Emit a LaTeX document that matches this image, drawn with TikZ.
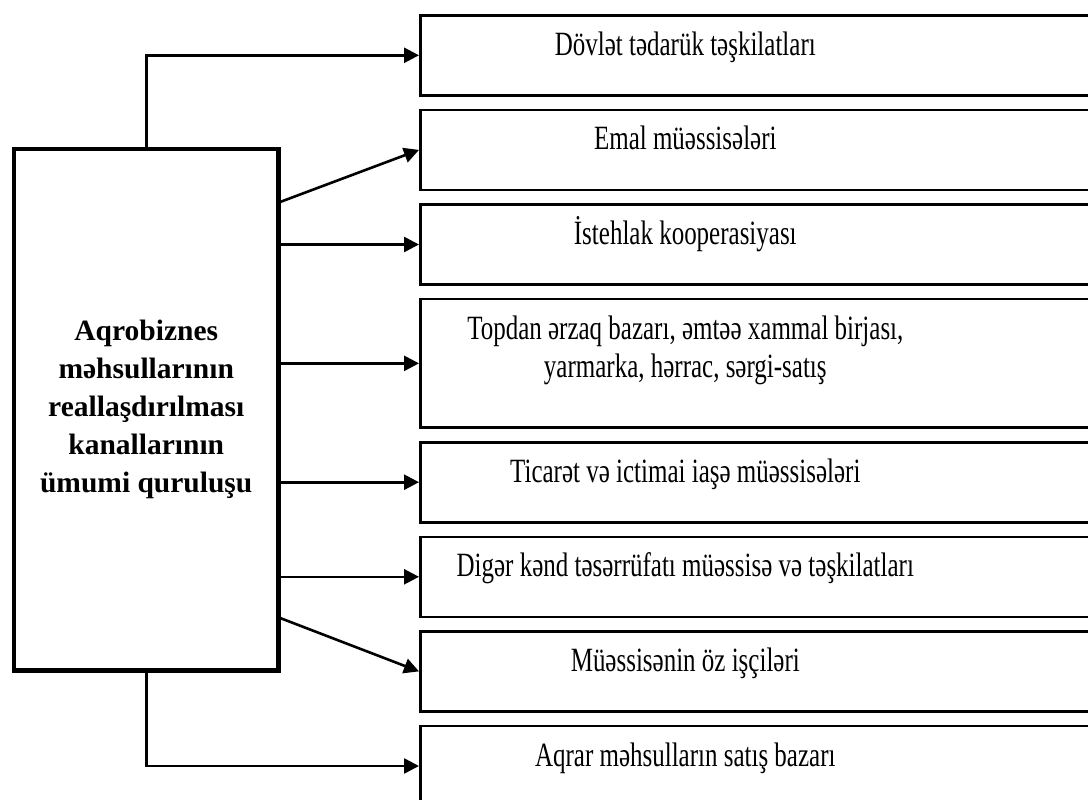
\documentclass[tikz,border=0pt]{standalone}
\usepackage{fontspec}
\setmainfont{Liberation Serif}
\newfontfamily\boxfont[FakeStretch=0.735]{Liberation Serif}
\usetikzlibrary{positioning, arrows.meta}
\newcommand\chantext[2]{\parbox[c][#1][t]{530pt}{\centering\rule{0pt}{40pt}#2}\hspace*{151pt}}

\begin{document}
\begin{tikzpicture}[x=1pt, y=-1pt,
     node distance = 12pt and 12pt,
         line width = 2.6pt,
                  > = {Triangle[length=15pt, width=15pt]},
      mainbox/.style = {rectangle, draw, line width=4.5pt, minimum width=264.5pt,
                        minimum height=521.5pt, align=center,
                        font=\bfseries\fontsize{29.5}{38}\selectfont},
         chan/.style = {rectangle, draw, inner sep=0pt,
                        font=\boxfont\fontsize{34}{38}\selectfont}
                        ]
\useasboundingbox (0,0) rectangle (1088,800);
\node (main) [mainbox] at (146.25,409.75) {Aqrobiznes\\ məhsullarının\\ reallaşdırılması\\ kanallarının\\ ümumi quruluşu};
\node (dovlet)   [chan, anchor=north west] at (419,14) {\chantext{80pt}{Dövlət tədarük təşkilatları}};
\node (emal)     [chan, below=of dovlet]   {\chantext{80pt}{Emal müəssisələri}};
\node (istehlak) [chan, below=of emal]     {\chantext{80pt}{İstehlak kooperasiyası}};
\node (topdan)   [chan, below=of istehlak] {\chantext{128.5pt}{Topdan ərzaq bazarı, əmtəə xammal birjası,\\ yarmarka, hərrac, sərgi-satış}};
\node (ticaret)  [chan, below=of topdan]   {\chantext{80pt}{Ticarət və ictimai iaşə müəssisələri}};
\node (diger)    [chan, below=of ticaret]  {\chantext{80pt}{Digər kənd təsərrüfatı müəssisə və təşkilatları}};
\node (ishci)    [chan, below=of diger]    {\chantext{80pt}{Müəssisənin öz işçiləri}};
\node (aqrar)    [chan, below=of ishci]    {\chantext{80pt}{Aqrar məhsulların satış bazarı}};
\coordinate (m2) at ([yshift=-55pt]main.north east);
\coordinate (m7) at ([yshift=54.5pt]main.south east);
\draw[->] (main.north) |- (dovlet.west);
\draw[->] (m2) to (emal.west);
\draw[->] (main.east |- istehlak.west) to (istehlak.west);
\draw[->] (main.east |- topdan.west) to (topdan.west);
\draw[->] (main.east |- ticaret.west) to (ticaret.west);
\draw[->] (main.east |- diger.west) to (diger.west);
\draw[->] (m7) to (ishci.west);
\draw[->] (main.south) |- (aqrar.west);
\end{tikzpicture}
\end{document}
